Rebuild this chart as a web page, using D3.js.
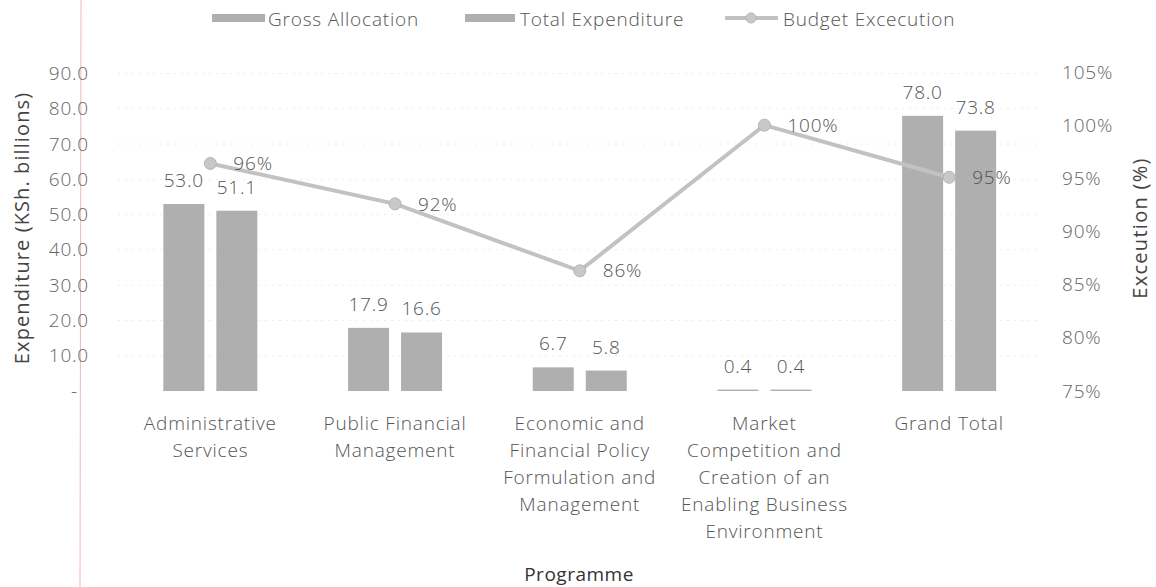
<!DOCTYPE html>
<html><head><meta charset="utf-8">
<script src="https://cdn.jsdelivr.net/npm/d3@7"></script>
<style>
body{margin:0;background:#fff}
text{font-family:"Open Sans",sans-serif}
</style>
</head><body>
<svg id="c" width="1156" height="587"></svg>
<script>
// ---- data ----
const categories = [
  ["Administrative","Services"],
  ["Public Financial","Management"],
  ["Economic and","Financial Policy","Formulation and","Management"],
  ["Market","Competition and","Creation of an","Enabling Business","Environment"],
  ["Grand Total"]
];
const seriesNames = ["Gross Allocation","Total Expenditure"];
const grossAllocation = [53.0,17.9,6.7,0.4,78.0];
const totalExpenditure = [51.1,16.6,5.8,0.4,73.8];
const budgetExecution = [96.4,92.6,86.3,100.0,95.1];
const executionLabels = ["96%","92%","86%","100%","95%"];
const leftTicks = [0,10,20,30,40,50,60,70,80,90];
const rightTicks = [75,80,85,90,95,100,105];

const categoryKeys = categories.map(c=>c.join(" "));
const svg = d3.select("#c");
const barColor = "#afafaf";
const lineColor = "#c2c2c2";
const tickColor = "#666";
const FS = 19, LS = "0.8px";

// scan artifact margin line
svg.append("line").attr("x1",81).attr("x2",80).attr("y1",0).attr("y2",587)
  .attr("stroke","#f1b8b8").attr("stroke-width",1);

const x0 = d3.scaleBand().domain(categoryKeys).range([118,1041.5]).paddingInner(0).paddingOuter(0);
const bw = x0.bandwidth();
const x1 = d3.scaleBand().domain(seriesNames).range([bw/2-47,bw/2+47]).paddingInner(0.2264);
const y = d3.scaleLinear().domain([0,90]).range([391,73.5]);
const yR = d3.scaleLinear().domain([75,105]).range([391,72]);

function style(sel, fill){
  return sel.attr("font-size",FS).attr("font-weight",300).attr("letter-spacing",LS)
    .attr("font-family","Open Sans").attr("fill",fill||"#555");
}

// gridlines
svg.append("g").selectAll("line").data(leftTicks.filter(d=>d>0)).join("line")
  .attr("x1",118).attr("x2",1041).attr("y1",d=>y(d)).attr("y2",d=>y(d))
  .attr("stroke","#ececec").attr("stroke-dasharray","2,5");

// left axis
const gl = svg.append("g").attr("transform","translate(97,0)")
  .call(d3.axisLeft(y).tickValues(leftTicks).tickSize(0).tickPadding(8)
    .tickFormat(d=>d===0?"-":d3.format(".1f")(d)));
gl.select(".domain").remove();
style(gl.selectAll("text"), tickColor);
gl.selectAll(".tick").filter(d=>d===0).select("text").attr("x",-19);

// right axis
const gr = svg.append("g").attr("transform","translate(1054,0)")
  .call(d3.axisRight(yR).tickValues(rightTicks).tickSize(0).tickPadding(8).tickFormat(d=>d+"%"));
gr.select(".domain").remove();
style(gr.selectAll("text"), tickColor);

// bars
const rows = categoryKeys.map((k,i)=>({key:k, vals:[grossAllocation[i],totalExpenditure[i]]}));
const gb = svg.append("g");
const grp = gb.selectAll("g").data(rows).join("g").attr("transform",d=>`translate(${x0(d.key)},0)`);
grp.selectAll("rect").data(d=>d.vals.map((v,j)=>({s:seriesNames[j],v}))).join("rect")
  .attr("x",d=>x1(d.s)).attr("width",x1.bandwidth())
  .attr("y",d=>y(d.v)).attr("height",d=>y(0)-y(d.v)).attr("fill",barColor);
style(grp.selectAll("text").data(d=>d.vals.map((v,j)=>({s:seriesNames[j],v}))).join("text")
  .attr("x",d=>x1(d.s)+x1.bandwidth()/2).attr("y",d=>y(d.v)-17)
  .attr("text-anchor","middle"))
  .text(d=>d3.format(".1f")(d.v));

// line
const cx = k=>x0(k)+bw/2;
const lineData = categoryKeys.map((k,i)=>({k,v:budgetExecution[i],l:executionLabels[i]}));
svg.append("path").datum(lineData)
  .attr("d",d3.line().x(d=>cx(d.k)).y(d=>yR(d.v)))
  .attr("fill","none").attr("stroke",lineColor).attr("stroke-width",4);
svg.append("g").selectAll("circle").data(lineData).join("circle")
  .attr("cx",d=>cx(d.k)).attr("cy",d=>yR(d.v)).attr("r",6)
  .attr("fill","#c8c8c8").attr("stroke","#b5b5b5").attr("stroke-width",1);
style(svg.append("g").selectAll("text").data(lineData).join("text")
  .attr("x",d=>cx(d.k)+23).attr("y",d=>yR(d.v)).attr("dy","0.35em"))
  .text(d=>d.l);

// category labels
const gx = svg.append("g");
style(gx.selectAll("text").data(categories.map((c,i)=>({c,k:categoryKeys[i]}))).join("text")
  .attr("text-anchor","middle"))
  .each(function(d){
    d3.select(this).selectAll("tspan").data(d.c).join("tspan")
      .attr("x",cx(d.k)).attr("y",(t,j)=>430+j*27).text(t=>t);
  });

// axis titles
svg.append("text").attr("transform","translate(22,228) rotate(-90)")
  .attr("text-anchor","middle").attr("dy","0.35em").attr("font-size",20).attr("letter-spacing","1.1px")
  .attr("fill","#444").text("Expenditure (KSh. billions)");
svg.append("text").attr("transform","translate(1140,228) rotate(-90)")
  .attr("text-anchor","middle").attr("dy","0.35em").attr("font-size",20).attr("letter-spacing","1.3px")
  .attr("fill","#444").text("Exceution (%)");
svg.append("text").attr("x",579).attr("y",581).attr("text-anchor","middle")
  .attr("font-size",19).attr("letter-spacing","0.5px").attr("fill","#333").text("Programme");

// legend
const lg = svg.append("g");
lg.append("rect").attr("x",212).attr("y",14).attr("width",53).attr("height",8).attr("fill",barColor);
style(lg.append("text").attr("x",268).attr("y",19).attr("dy","0.35em")).text(seriesNames[0]);
lg.append("rect").attr("x",465).attr("y",14).attr("width",50).attr("height",8).attr("fill",barColor);
style(lg.append("text").attr("x",520).attr("y",19).attr("dy","0.35em")).text(seriesNames[1]);
lg.append("line").attr("x1",725).attr("x2",778).attr("y1",18).attr("y2",18).attr("stroke",lineColor).attr("stroke-width",4);
lg.append("circle").attr("cx",751).attr("cy",18).attr("r",5).attr("fill","#c8c8c8").attr("stroke","#b5b5b5");
style(lg.append("text").attr("x",783).attr("y",19).attr("dy","0.35em")).text("Budget Excecution");
</script>
</body></html>
